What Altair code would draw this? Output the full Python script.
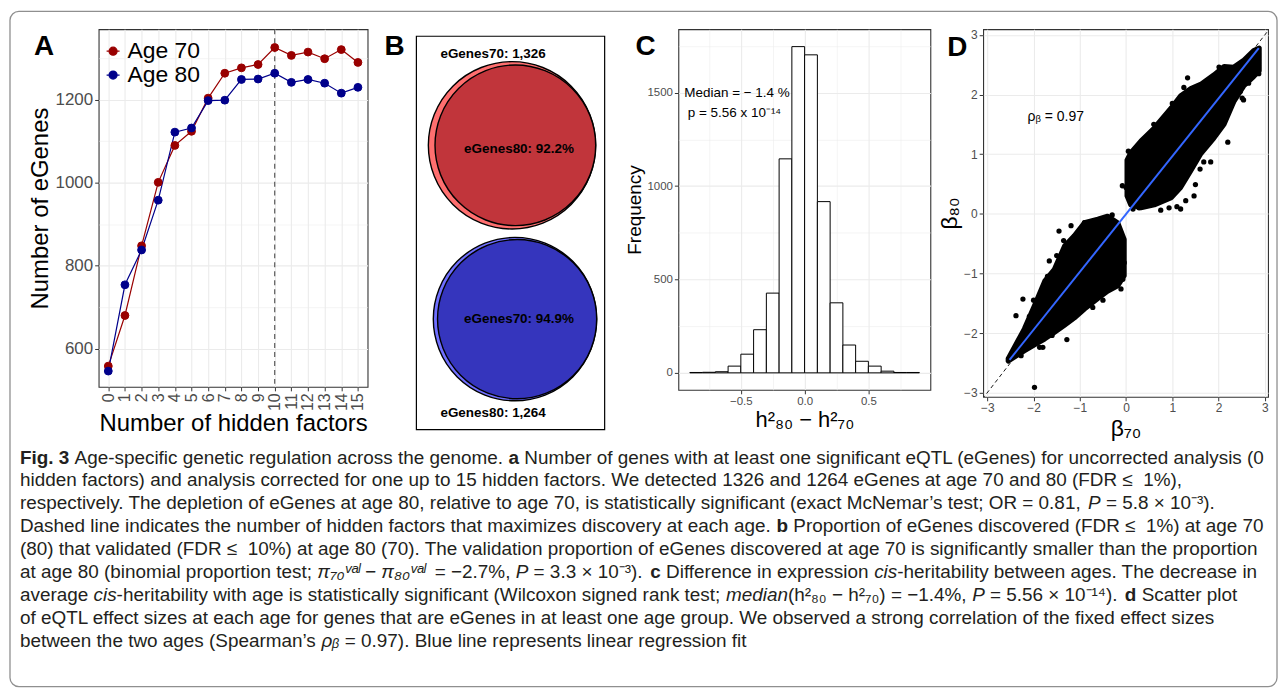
import json
import math
import altair as alt
import pandas as pd

FONT = "Liberation Sans"
CAP_FONT = "Liberation Sans"
GRID = "#EBEBEB"
PANEL_BORDER = "#333333"
TICK_COL = "#333333"
LAB_COL = "#4D4D4D"

# ---------------- Panel A data ----------------
hidden_factors = [0, 1, 2, 3, 4, 5, 6, 7, 8, 9, 10, 11, 12, 13, 14, 15]
egenes_age70 = [558, 680, 848, 1001, 1090, 1124, 1204, 1264, 1277, 1285, 1326, 1307, 1315, 1299, 1321, 1290]
egenes_age80 = [546, 754, 838, 958, 1122, 1132, 1198, 1199, 1249, 1250, 1264, 1242, 1249, 1240, 1216, 1230]
age_groups = ["Age 70", "Age 80"]
best_n_factors = [10]
a_y_ticks = [600, 700, 800, 900, 1000, 1100, 1200, 1300]
a_y_major = [600, 800, 1000, 1200]

# ---------------- Panel B data ----------------
venn_discovery_age = ["70", "80"]
venn_validation_age = ["80", "70"]
venn_egenes = [1326, 1264]
venn_validated_pct = [92.2, 94.9]

# ---------------- Panel C data ----------------
hist_bin_start = [-0.9, -0.8, -0.7, -0.6, -0.5, -0.4, -0.3, -0.2, -0.1, 0.0, 0.1, 0.2, 0.3, 0.4, 0.5, 0.6, 0.7, 0.8]
hist_bin_end = [-0.8, -0.7, -0.6, -0.5, -0.4, -0.3, -0.2, -0.1, 0.0, 0.1, 0.2, 0.3, 0.4, 0.5, 0.6, 0.7, 0.8, 0.9]
hist_count = [2, 3, 6, 36, 100, 231, 427, 1146, 1747, 1703, 917, 375, 149, 62, 36, 9, 2, 2]
c_x_ticks = [-0.75, -0.5, -0.25, 0.0, 0.25, 0.5, 0.75]
c_x_major = [-0.5, 0.0, 0.5]
c_y_ticks = [0, 250, 500, 750, 1000, 1250, 1500, 1750]
c_y_major = [0, 500, 1000, 1500]
median_lines = ["Median = \u2212 1.4 %", "p = 5.56 x 10\u207b\u00b9\u2074"]
median_pos_x = [-0.53, -0.55]
median_pos_y = [1500, 1393]

# ---------------- Panel D data ----------------
neg_blob_b70 = [-2.55, -2.2, -1.98, -1.76, -1.55, -1.33, -1.12, -0.9, -0.61, -0.4, -0.18, -0.04]
neg_blob_hi = [-2.43, -1.93, -1.54, -1.13, -0.93, -0.54, -0.37, -0.15, -0.09, -0.04, -0.15, -0.43]
neg_blob_lo = [-2.47, -2.3, -2.2, -2.1, -1.99, -1.87, -1.75, -1.6, -1.42, -1.3, -1.21, -1.04]
pos_blob_b70 = [0.02, 0.1, 0.32, 0.61, 0.98, 1.18, 1.4, 1.61, 1.9, 2.12, 2.33, 2.55, 2.76, 2.88]
pos_blob_hi = [0.9, 1.02, 1.22, 1.44, 1.78, 1.98, 2.1, 2.17, 2.33, 2.47, 2.46, 2.58, 2.74, 2.78]
pos_blob_lo = [0.3, 0.15, 0.1, 0.15, 0.27, 0.44, 0.72, 1.0, 1.27, 1.5, 1.88, 2.15, 2.3, 2.4]
outlier_b70 = [-1.98, -1.45, -1.66, -2.38, -2.23, -2.09, -1.87, -1.8, -1.28, -1.6, -2.27, -0.72, -0.25,
               -0.07, -0.11, -0.04, -1.22, -0.61, -0.9, -1.19, -0.08, 0.0, 1.33, 1.25, 2.01, 2.51, 2.69,
               2.83, 2.47, 2.51, 0.57, 1.68, 1.83, 1.5, 1.47, 1.29, 1.18, 0.93, 0.75, 0.28, 2.54, 2.65, 2.87,
               -2.0, -1.7, -1.35, -1.5, -0.5, -0.3, 0.6, 1.0, 1.1, 1.6, 2.2, 0.05, 0.15]
outlier_b80 = [-2.91, -0.29, -0.79, -1.71, -1.43, -1.72, -2.24, -2.24, -2.11, -2.04, -2.38, -1.57, -1.1,
               -1.1, -1.26, -0.82, -1.76, -1.4, -0.15, -0.2, 0.47, 0.44, 2.28, 2.12, 2.46, 2.53, 2.33,
               2.39, 2.05, 1.94, 1.39, 0.87, 0.87, 0.49, 0.3, 0.22, 0.08, 0.1, 0.06, 0.1, 1.91, 2.19, 2.35,
               -1.45, -1.05, -0.45, -0.7, -1.45, -0.02, 1.5, 1.85, 0.12, 0.75, 1.2, 1.05, 0.08]
fit_b70 = [-2.52, 2.87]
fit_b80 = [-2.45, 2.78]
identity_b = [-3.2, 3.2]
rho_label = ["\u03c1\u1d66 = 0.97"]
rho_pos = [-1.52, 1.62]
d_ticks = [-3, -2.5, -2, -1.5, -1, -0.5, 0, 0.5, 1, 1.5, 2, 2.5, 3]
d_major = [-3, -2, -1, 0, 1, 2, 3]

# ---------------- Caption (style: n plain, b bold, i italic; "+" = no space before) ----------------
caption_lines = [
    [("b", "Fig. 3"), ("n", "Age-specific genetic regulation across the genome."), ("b", "a"),
     ("n", "Number of genes with at least one significant eQTL (eGenes) for uncorrected analysis (0")],
    [("n", "hidden factors) and analysis corrected for one up to 15 hidden factors. We detected 1326 and 1264 eGenes at age 70 and 80 (FDR \u2264\u00a0 1%),")],
    [("n", "respectively. The depletion of eGenes at age 80, relative to age 70, is statistically significant (exact McNemar\u2019s test; OR = 0.81,"),
     ("i", "P"), ("n", "= 5.8 \u00d7 10\u207b\u00b3).")],
    [("n", "Dashed line indicates the number of hidden factors that maximizes discovery at each age."), ("b", "b"),
     ("n", "Proportion of eGenes discovered (FDR \u2264\u00a0 1%) at age 70")],
    [("n", "(80) that validated (FDR \u2264\u00a0 10%) at age 80 (70). The validation proportion of eGenes discovered at age 70 is significantly smaller than the proportion")],
    [("n", "at age 80 (binomial proportion test;"), ("i", "\u03c0\u2087\u2080\u1d5b\u1d43\u02e1 \u2212 \u03c0\u2088\u2080\u1d5b\u1d43\u02e1"),
     ("n", "= \u22122.7%,"), ("i", "P"), ("n", "= 3.3 \u00d7 10\u207b\u00b3)."), ("b", "c"),
     ("n", "Difference in expression"), ("i", "cis"), ("n+", "-heritability between ages. The decrease in")],
    [("n", "average"), ("i", "cis"), ("n+", "-heritability with age is statistically significant (Wilcoxon signed rank test;"),
     ("i", "median"), ("n+", "(h\u00b2\u2088\u2080 \u2212 h\u00b2\u2087\u2080) = \u22121.4%,"), ("i", "P"),
     ("n", "= 5.56 \u00d7 10\u207b\u00b9\u2074)."), ("b", "d"), ("n", "Scatter plot")],
    [("n", "of eQTL effect sizes at each age for genes that are eGenes in at least one age group. We observed a strong correlation of the fixed effect sizes")],
    [("n", "between the two ages (Spearman\u2019s"), ("i", "\u03c1\u1d66"), ("n", "= 0.97). Blue line represents linear regression fit")],
]
caption_line_y = [456, 479, 502, 525, 548, 571, 594, 617, 640]
CAP_LEFT, CAP_RIGHT = 18, 1268

# Helvetica / Arial advance widths (1/1000 em), used to chain caption segments
_W = {' ': 278, '\u00a0': 278, '!': 278, '"': 355, '%': 889, '&': 667, "'": 191, '(': 333, ')': 333,
      '*': 389, '+': 584, ',': 278, '-': 333, '.': 278, '/': 278, ':': 278, ';': 278, '<': 584,
      '=': 584, '>': 584, '?': 556, '[': 278, ']': 278, '\u2019': 222, '\u00d7': 584, '\u2212': 584,
      '\u2264': 549, '\u03c0': 578, '\u03c1': 574, '\u1d66': 380, '\u00b2': 333, '\u00b3': 333,
      '\u00b9': 333, '\u2074': 400, '\u207b': 450, '\u1d5b': 380, '\u1d43': 380, '\u02e1': 260,
      'A': 667, 'B': 667, 'C': 722, 'D': 722, 'E': 667, 'F': 611, 'G': 778, 'H': 722, 'I': 278,
      'J': 500, 'K': 667, 'L': 556, 'M': 833, 'N': 722, 'O': 778, 'P': 667, 'Q': 778, 'R': 722,
      'S': 667, 'T': 611, 'U': 722, 'V': 667, 'W': 944, 'X': 667, 'Y': 667, 'Z': 611,
      'a': 556, 'b': 556, 'c': 500, 'd': 556, 'e': 556, 'f': 278, 'g': 556, 'h': 556, 'i': 222,
      'j': 222, 'k': 500, 'l': 222, 'm': 833, 'n': 556, 'o': 556, 'p': 556, 'q': 556, 'r': 333,
      's': 500, 't': 278, 'u': 556, 'v': 500, 'w': 722, 'x': 500, 'y': 500, 'z': 500}
for _d in "0123456789":
    _W[_d] = 556
for _d in "\u2080\u2081\u2082\u2083\u2084\u2085\u2086\u2087\u2088\u2089":
    _W[_d] = 400
_WB = {'F': 611, 'i': 278, 'g': 611, '.': 278, ' ': 278, '3': 556, 'a': 556, 'b': 611, 'c': 556, 'd': 611}


def em_width(txt, style):
    table = _WB if style == "b" else _W
    return sum(table.get(ch, _W.get(ch, 556)) for ch in txt) / 1000.0


def line_em(segs):
    tot = 0.0
    for k, (style, txt) in enumerate(segs):
        if k > 0 and not style.endswith("+"):
            tot += _W[' '] / 1000.0
        tot += em_width(txt, style[0])
    return tot


CAP_SIZE = (CAP_RIGHT - CAP_LEFT) / max(line_em(s) for s in caption_lines)

# ---------------- layout (pixels) ----------------
A_LEFT, A_TOP = 97, 26
A_W, A_H = 270, 359
B_W, B_H = 189, 402
C_W, C_H = 253, 362
D_W, D_H = 286, 369
GAP_AB, GAP_BC, GAP_CD = 49, 74, 53


def axis(values, majors, title, label_size, title_size, title_pad, fmt=None, angle=None):
    test = "indexof(%s, datum.value) >= 0" % json.dumps(majors)
    kw = dict(
        values=values, title=title, labelFontSize=label_size, titleFontSize=title_size,
        titlePadding=title_pad, labelPadding=2, labelOverlap=False, labelFlush=False,
        labelExpr=test + " ? datum.label : ''",
        gridWidth={"condition": {"test": test, "value": 1.1}, "value": 0.55},
        tickOpacity={"condition": {"test": test, "value": 1}, "value": 0},
    )
    if fmt:
        kw["format"] = fmt
    if angle is not None:
        kw["labelAngle"] = angle
    return alt.Axis(**kw)


def letter(ch, x, y):
    return alt.Chart(pd.DataFrame({"t": [ch]})).mark_text(
        font=FONT, fontSize=28, fontWeight="bold", align="left", baseline="alphabetic", color="black"
    ).encode(text="t:N", x=alt.value(x), y=alt.value(y))


# ================= Panel A =================
dfA = pd.DataFrame({
    "factor": hidden_factors * 2,
    "egenes": egenes_age70 + egenes_age80,
    "age": [age_groups[0]] * len(hidden_factors) + [age_groups[1]] * len(hidden_factors),
})
scA_x = alt.Scale(domain=[-0.58, 15.58], nice=False, zero=False)
scA_y = alt.Scale(domain=[508, 1370], nice=False, zero=False)
axA_x = axis(hidden_factors, hidden_factors, "Number of hidden factors", 16, 24, 1, fmt="d", angle=270)
axA_y = axis(a_y_ticks, a_y_major, "Number of eGenes", 17, 24, 3, fmt="d")
xA = alt.X("factor:Q", scale=scA_x, axis=axA_x)
yA = alt.Y("egenes:Q", scale=scA_y, axis=axA_y)
colA = alt.Scale(domain=age_groups, range=["#990000", "#00008B"])
SYM = "M-1,0L1,0M0.62,0A0.62,0.62,0,1,1,-0.62,0A0.62,0.62,0,1,1,0.62,0"
legA = alt.Legend(title=None, orient="none", legendX=3, legendY=10.5, symbolType=SYM, symbolSize=169,
                  symbolStrokeWidth=1.2, labelFont=FONT, labelFontSize=23, labelColor="black",
                  labelOffset=3, rowPadding=-7, padding=0)

frame = alt.Chart(pd.DataFrame({"k": [0]})).mark_rect(
    fillOpacity=0, stroke="#8F8F8F", strokeWidth=1.3, cornerRadius=9
).encode(x=alt.value(8 - A_LEFT), x2=alt.value(1280 - A_LEFT), y=alt.value(8 - A_TOP), y2=alt.value(686 - A_TOP))

lineA = alt.Chart(dfA).mark_line(strokeWidth=1.2).encode(
    x=xA, y=yA, stroke=alt.Stroke("age:N", scale=colA, legend=legA))
pointA = alt.Chart(dfA).mark_point(filled=True, size=62, opacity=1, strokeWidth=1).encode(
    x=xA, y=yA,
    fill=alt.Fill("age:N", scale=colA, legend=legA),
    stroke=alt.Stroke("age:N", scale=colA, legend=legA))
ruleA = alt.Chart(pd.DataFrame({"factor": best_n_factors})).mark_rule(
    strokeDash=[5, 4], color="#4D4D4D", strokeWidth=1.1).encode(x=xA)

caption_layers = []
for li, segs in enumerate(caption_lines):
    xpos = CAP_LEFT
    for k, (style, txt) in enumerate(segs):
        if k > 0 and not style.endswith("+"):
            xpos += _W[' '] / 1000.0 * CAP_SIZE
        st = style[0]
        props = dict(font=CAP_FONT, fontSize=CAP_SIZE, align="left", baseline="middle", color="#231F20")
        if st == "b":
            props["fontWeight"] = "bold"
        if st == "i":
            props["fontStyle"] = "italic"
        caption_layers.append(
            alt.Chart(pd.DataFrame({"t": [txt]})).mark_text(**props).encode(
                text="t:N", x=alt.value(xpos - A_LEFT), y=alt.value(caption_line_y[li] - A_TOP)))
        xpos += em_width(txt, st) * CAP_SIZE

panelA = alt.layer(frame, lineA, ruleA, pointA, letter("A", -65, 26), *caption_layers).properties(
    width=A_W, height=A_H)

# ================= Panel B =================
D_FULL = 168.0  # diameter of the 1,326-gene circle in pixels


def radius(n):
    return D_FULL / 2 * math.sqrt(n / venn_egenes[0])


circ_rows = []
venn_right = [180, 181]
venn_cy = [116.5, 291]
for i in range(2):
    n_out = venn_egenes[i]
    n_in = venn_egenes[i] * venn_validated_pct[i] / 100
    circ_rows.append({"cx": venn_right[i] - radius(n_out), "cy": venn_cy[i], "n": n_out,
                      "role": "all" + venn_discovery_age[i], "ord": 2 * i})
    circ_rows.append({"cx": venn_right[i] - radius(n_in), "cy": venn_cy[i], "n": n_in,
                      "role": "val" + venn_discovery_age[i], "ord": 2 * i + 1})
dfB = pd.DataFrame(circ_rows)
scB_x = alt.Scale(domain=[0, B_W], nice=False, zero=False)
scB_y = alt.Scale(domain=[B_H, 0], nice=False, zero=False)
fillB = alt.Scale(domain=["all70", "val70", "all80", "val80"],
                  range=["#FF6F6F", "#C1353B", "#6F6FFF", "#3535BD"])
circlesB = alt.Chart(dfB).mark_point(filled=True, shape="circle", stroke="black", strokeWidth=1.4,
                                     opacity=1).encode(
    x=alt.X("cx:Q", scale=scB_x, axis=None),
    y=alt.Y("cy:Q", scale=scB_y, axis=None),
    size=alt.Size("n:Q", scale=alt.Scale(domain=[0, venn_egenes[0]], range=[0, D_FULL ** 2]), legend=None),
    fill=alt.Fill("role:N", scale=fillB, legend=None),
    order=alt.Order("ord:Q"),
)
lab_rows = [
    {"cx": 77, "cy": 24.7, "t": "eGenes%s: %s" % (venn_discovery_age[0], format(venn_egenes[0], ","))},
    {"cx": 103, "cy": 120.7, "t": "eGenes%s: %.1f%%" % (venn_validation_age[0], venn_validated_pct[0])},
    {"cx": 103, "cy": 290.7, "t": "eGenes%s: %.1f%%" % (venn_validation_age[1], venn_validated_pct[1])},
    {"cx": 77, "cy": 385.7, "t": "eGenes%s: %s" % (venn_discovery_age[1], format(venn_egenes[1], ","))},
]
labelsB = alt.Chart(pd.DataFrame(lab_rows)).mark_text(
    font=FONT, fontSize=13.5, fontWeight="bold", color="black").encode(
    x=alt.X("cx:Q", scale=scB_x, axis=None), y=alt.Y("cy:Q", scale=scB_y, axis=None), text="t:N")
boxB = alt.Chart(pd.DataFrame({"k": [0]})).mark_rect(fillOpacity=0, stroke="black", strokeWidth=1.2).encode(
    x=alt.value(0), x2=alt.value(B_W), y=alt.value(7), y2=alt.value(B_H))
panelB = alt.layer(boxB, circlesB, labelsB, letter("B", -32, 26)).properties(
    width=B_W, height=B_H, view=alt.ViewBackground(stroke="transparent"))

# ================= Panel C =================
dfC = pd.DataFrame({"start": hist_bin_start, "end": hist_bin_end, "count": hist_count})
scC_x = alt.Scale(domain=[-0.99, 0.986], nice=False, zero=False)
scC_y = alt.Scale(domain=[-91, 1840], nice=False, zero=False)
axC_x = axis(c_x_ticks, c_x_major, "h\u00b2\u2088\u2080 \u2212 h\u00b2\u2087\u2080", 11.5, 22, 2, fmt=".1f")
axC_y = axis(c_y_ticks, c_y_major, "Frequency", 11.5, 19, 2, fmt="d")
barsC = alt.Chart(dfC).mark_rect(fill="white", stroke="black", strokeWidth=1).encode(
    x=alt.X("start:Q", scale=scC_x, axis=axC_x), x2="end:Q",
    y=alt.Y("count:Q", scale=scC_y, axis=axC_y), y2=alt.datum(0))
annC = alt.Chart(pd.DataFrame({"start": median_pos_x, "count": median_pos_y, "t": median_lines})).mark_text(
    font=FONT, fontSize=13.5, color="black").encode(
    x=alt.X("start:Q", scale=scC_x, axis=axC_x), y=alt.Y("count:Q", scale=scC_y, axis=axC_y), text="t:N")
panelC = alt.layer(barsC, annC, letter("C", -43, 26)).properties(width=C_W, height=C_H)

# ================= Panel D =================
scD_x = alt.Scale(domain=[-3.09, 3.07], nice=False, zero=False)
scD_y = alt.Scale(domain=[-3.07, 3.095], nice=False, zero=False)
axD_x = axis(d_ticks, d_major, "\u03b2\u2087\u2080", 12, 23, 4, fmt="d")
axD_y = axis(d_ticks, d_major, "\u03b2\u2088\u2080", 12, 23, 2, fmt="d")
xD = alt.X("b70:Q", scale=scD_x, axis=axD_x)
dfBlob = pd.DataFrame({
    "b70": neg_blob_b70 + pos_blob_b70,
    "hi": neg_blob_hi + pos_blob_hi,
    "lo": neg_blob_lo + pos_blob_lo,
    "blob": ["neg"] * len(neg_blob_b70) + ["pos"] * len(pos_blob_b70),
})
blobsD = alt.Chart(dfBlob).mark_area(color="black", stroke="black", strokeWidth=5, strokeJoin="round",
                                     opacity=1).encode(
    x=xD, y=alt.Y("hi:Q", scale=scD_y, axis=axD_y), y2="lo:Q", detail="blob:N")
pointsD = alt.Chart(pd.DataFrame({"b70": outlier_b70, "b80": outlier_b80})).mark_circle(
    size=28, color="black", opacity=1).encode(x=xD, y=alt.Y("b80:Q", scale=scD_y, axis=axD_y))
identD = alt.Chart(pd.DataFrame({"b70": identity_b, "b80": identity_b})).mark_line(
    strokeDash=[4, 3], color="black", strokeWidth=0.9, clip=True).encode(
    x=xD, y=alt.Y("b80:Q", scale=scD_y, axis=axD_y))
fitD = alt.Chart(pd.DataFrame({"b70": fit_b70, "b80": fit_b80})).mark_line(
    color="#3366FF", strokeWidth=2).encode(x=xD, y=alt.Y("b80:Q", scale=scD_y, axis=axD_y))
rhoD = alt.Chart(pd.DataFrame({"b70": [rho_pos[0]], "b80": [rho_pos[1]], "t": rho_label})).mark_text(
    font=FONT, fontSize=14, color="black").encode(
    x=xD, y=alt.Y("b80:Q", scale=scD_y, axis=axD_y), text="t:N")
panelD = alt.layer(blobsD, pointsD, identD, fitD, rhoD, letter("D", -36, 27)).properties(
    width=D_W, height=D_H)


def spacer(w):
    return alt.Chart(pd.DataFrame({"k": [0]})).mark_point(opacity=0).encode(
        x=alt.value(0), y=alt.value(0)).properties(
        width=w, height=1, view=alt.ViewBackground(stroke="transparent"))


chart = alt.hconcat(
    panelA, spacer(GAP_AB), panelB, spacer(GAP_BC), panelC, spacer(GAP_CD), panelD,
    spacing=0, bounds="flush",
).resolve_scale(
    fill="independent", stroke="independent", size="independent", color="independent"
).properties(padding=0).configure(font=FONT).configure_view(
    stroke=PANEL_BORDER, strokeWidth=1.1
).configure_axis(
    domain=False, labelFont=FONT, titleFont=FONT, titleFontWeight="normal", titleColor="black",
    labelColor=LAB_COL, tickColor=TICK_COL, tickSize=4, tickWidth=1, gridColor=GRID,
)

chart.save("out.html", embed_options={"renderer": "svg", "actions": False})
